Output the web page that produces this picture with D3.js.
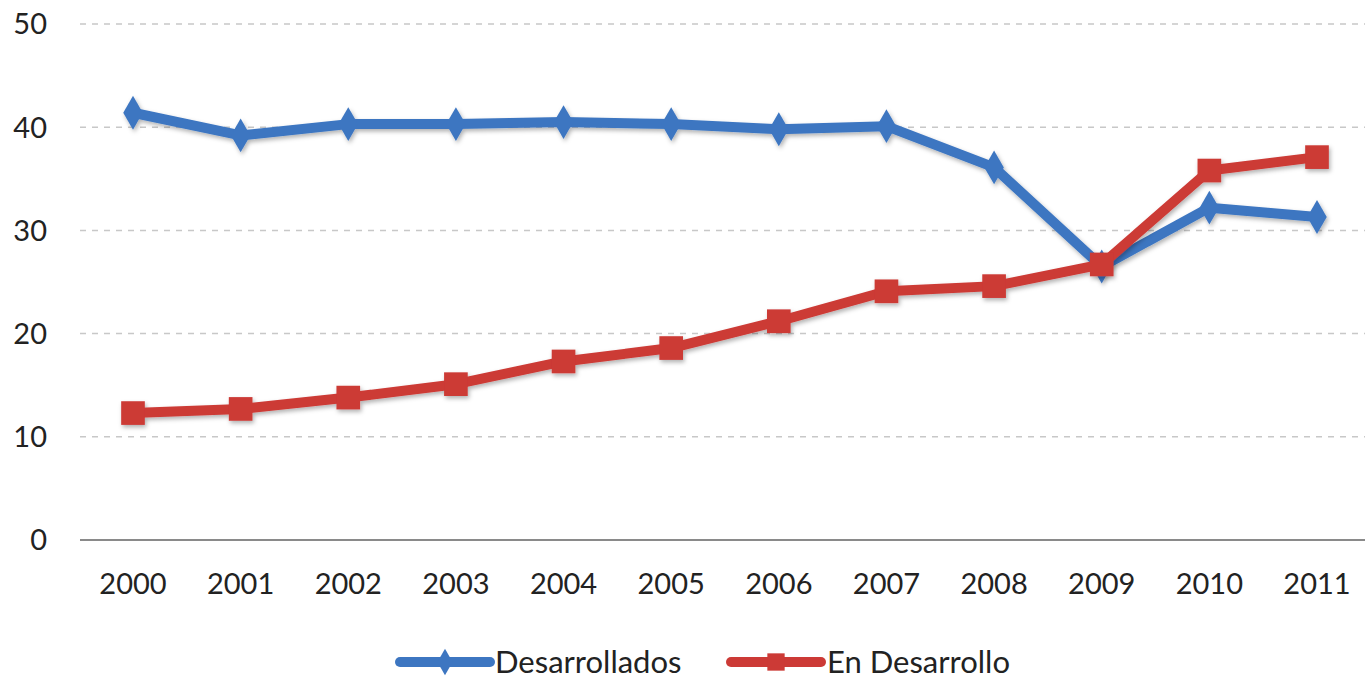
<!DOCTYPE html>
<html><head><meta charset="utf-8">
<script src="https://cdn.jsdelivr.net/npm/d3@7"></script>
<style>body{margin:0;background:#fff}svg{display:block}text{font-family:Lato,"Open Sans",sans-serif;fill:#222}</style>
</head><body><svg id="c" width="1365" height="681"></svg>
<script>
const years = ["2000","2001","2002","2003","2004","2005","2006","2007","2008","2009","2010","2011"];
const desarrollados = [41.4,39.2,40.3,40.3,40.5,40.3,39.8,40.1,36.1,26.5,32.2,31.3];
const enDesarrollo = [12.3,12.7,13.8,15.1,17.3,18.6,21.2,24.1,24.6,26.7,35.8,37.1];
const yTicks = [0,10,20,30,40,50];
const seriesNames = ["Desarrollados","En Desarrollo"];
const colors = ["#3D76C1","#CC3A36"];

const svg = d3.select("#c");
const x = d3.scalePoint().domain(years).range([133,1317]);
const y = d3.scaleLinear().domain([0,50]).range([540,24]);

const defs = svg.append("defs");
const f = defs.append("filter").attr("id","sh").attr("x","-20%").attr("y","-20%").attr("width","140%").attr("height","140%");
f.append("feDropShadow").attr("dx",1.5).attr("dy",2.5).attr("stdDeviation",2).attr("flood-color","#000").attr("flood-opacity",0.3);

// gridlines
svg.append("g").selectAll("line").data(yTicks.filter(d=>d>0)).join("line")
  .attr("x1",80).attr("x2",1365).attr("y1",d=>y(d)).attr("y2",d=>y(d))
  .attr("stroke","#c8c8c8").attr("stroke-width",1.5).attr("stroke-dasharray","6,6");
// axis line
svg.append("line").attr("x1",80).attr("x2",1365).attr("y1",y(0)).attr("y2",y(0)).attr("stroke","#8a8a8a").attr("stroke-width",2);

// y labels
svg.append("g").selectAll("text").data(yTicks).join("text")
  .attr("x",47).attr("y",d=>y(d)).attr("dy","0.36em").attr("text-anchor","end")
  .attr("font-size",29).text(d=>d);
// x labels
svg.append("g").selectAll("text").data(years).join("text")
  .attr("x",d=>x(d)).attr("y",594).attr("text-anchor","middle").attr("font-size",29).text(d=>d);

const line = d3.line().x((d,i)=>x(years[i])).y(d=>y(d));
const data = [desarrollados, enDesarrollo];
const diamond = d3.symbol().type(d3.symbolDiamond).size(330);
const square = d3.symbol().type(d3.symbolSquare).size(560);

data.forEach((s,k)=>{
  const g = svg.append("g").attr("filter","url(#sh)");
  g.append("path").datum(s).attr("d",line).attr("fill","none").attr("stroke",colors[k])
    .attr("stroke-width",10).attr("stroke-linejoin","round").attr("stroke-linecap","round");
  g.selectAll("path.m").data(s).join("path").attr("class","m")
    .attr("transform",(d,i)=>`translate(${x(years[i])},${y(d)})`)
    .attr("d",k===0?diamond():square()).attr("fill",colors[k]);
});

// legend
const ly = 662;
const leg = [{x1:400,x2:490,tx:495},{x1:731,x2:821,tx:827}];
leg.forEach((l,k)=>{
  const g = svg.append("g");
  g.append("line").attr("x1",l.x1).attr("x2",l.x2).attr("y1",ly).attr("y2",ly)
    .attr("stroke",colors[k]).attr("stroke-width",10).attr("stroke-linecap","round");
  g.append("path").attr("transform",`translate(${(l.x1+l.x2)/2},${ly})`)
    .attr("d",k===0?d3.symbol().type(d3.symbolDiamond).size(200)():d3.symbol().type(d3.symbolSquare).size(300)())
    .attr("fill",colors[k]);
  g.append("text").attr("x",l.tx).attr("y",ly).attr("dy","0.36em").attr("font-size",31).text(seriesNames[k]);
});
</script></body></html>
